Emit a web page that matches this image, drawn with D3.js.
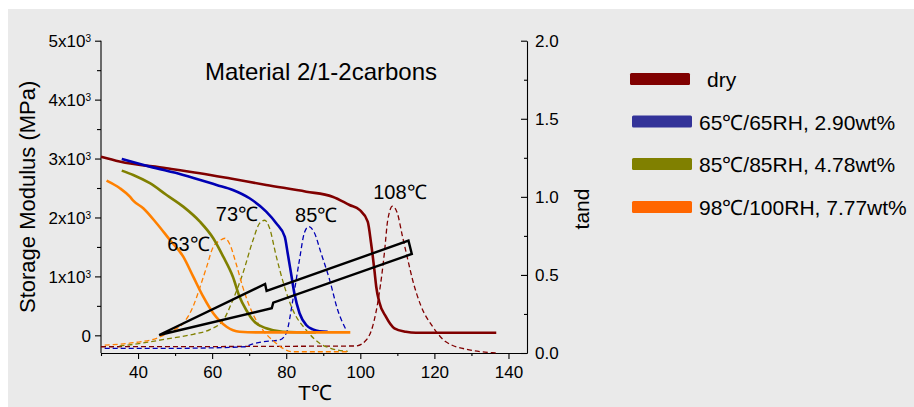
<!DOCTYPE html>
<html>
<head>
<meta charset="utf-8">
<script src="https://cdn.jsdelivr.net/npm/d3@7"></script>
<style>
  body { margin: 0; background: #fff; }
  svg { display: block; font-family: "Liberation Sans", Arial, sans-serif; }
</style>
</head>
<body>
<div id="chart"></div>
<script>
// series names and colours
const seriesNames = ["dry", "65℃/65RH, 2.90wt%", "85℃/85RH, 4.78wt%", "98℃/100RH, 7.77wt%"];
const lineColors = ["#800000", "#0000b4", "#808000", "#ff8000"];
const swatchColors = ["#800000", "#333399", "#808000", "#ff6600"];

// storage modulus (MPa) vs temperature, [T, E']
const modulusDry = [[30, 3030], [35, 2950], [47.7, 2836], [56.7, 2750], [65, 2660], [74.6, 2552], [85.4, 2438],
  [92.5, 2353], [97.1, 2212], [99.8, 2128], [102, 1929], [102.9, 1567], [103.8, 1109], [104.3, 825],
  [105.1, 570], [106.9, 316], [109.2, 119], [112.3, 61], [115, 44], [136.7, 44]];
const modulus65 = [[35.6, 2994], [43.2, 2863], [52.2, 2722], [61.2, 2552], [65.6, 2467], [70.1, 2326],
  [74.6, 2099], [77.3, 1902], [79.6, 1674], [80.4, 1392], [81.3, 1053], [82.2, 713], [83.6, 374],
  [85.4, 175], [87.2, 100], [89, 70], [91.2, 61]];
const modulus85 = [[35.6, 2795], [38.7, 2722], [43.2, 2581], [47.7, 2382], [52.2, 2184], [56.7, 1929],
  [60.3, 1647], [63, 1335], [65.6, 995], [67.4, 655], [69.2, 430], [71.4, 231], [74.6, 119],
  [79.1, 61], [88, 50]];
const modulus98 = [[31.5, 2625], [35.1, 2496], [37.8, 2353], [38.7, 2286], [41.4, 2157], [45, 1902],
  [48.6, 1618], [52.2, 1335], [54.9, 995], [57.6, 655], [60.3, 374], [63.9, 146], [67.4, 61],
  [72, 50], [97.3, 50]];

// tan delta vs temperature, [T, tand]
const tandDry = [[30, 0.04], [98.8, 0.045], [101.6, 0.083], [103.3, 0.168], [105.1, 0.38], [106.5, 0.64],
  [107.4, 0.85], [108.7, 0.94], [110, 0.895], [111.4, 0.745], [112.8, 0.6], [114.1, 0.47],
  [116.4, 0.3], [119.5, 0.17], [123.1, 0.072], [129.4, 0.02], [135.7, 0.002], [137, 0]];
const tand65 = [[31, 0.03], [50, 0.03], [69, 0.04], [70.1, 0.051], [73.7, 0.072], [78.2, 0.083],
  [80, 0.126], [81.8, 0.34], [83.6, 0.6], [84.9, 0.77], [86.1, 0.81], [87.6, 0.77], [89.4, 0.64],
  [91.7, 0.47], [93.9, 0.275], [96.2, 0.147]];
const tand85 = [[35, 0.045], [38.7, 0.055], [47.7, 0.09], [54.9, 0.12], [59.4, 0.15], [63, 0.21],
  [65.6, 0.34], [68.3, 0.51], [71, 0.72], [72.8, 0.83], [74.2, 0.85], [75.5, 0.8], [77.3, 0.62],
  [79.6, 0.42], [81.8, 0.275], [85.4, 0.147], [89, 0.062], [92, 0.03], [96.6, 0.01]];
const tand98 = [[31, 0.05], [38.7, 0.066], [45, 0.094], [49, 0.14], [52.2, 0.19], [54.9, 0.3],
  [56.7, 0.42], [58.5, 0.55], [60.3, 0.68], [62.1, 0.72], [63.5, 0.735], [64.7, 0.7], [66.5, 0.57],
  [68.3, 0.42], [71, 0.25], [73.7, 0.147], [77.3, 0.062], [79.1, 0.03], [81.8, 0.008], [97, 0.008]];

// tick values
const xTicks = [40, 60, 80, 100, 120, 140];
const leftTicks = [0, 1000, 2000, 3000, 4000, 5000];
const rightTicks = [0, 0.5, 1.0, 1.5, 2.0];

// peak labels, anchored at [T, tand]
const peakLabels = ["108℃", "85℃", "73℃", "63℃"];
const peakAnchors = [[110.7, 0.984], [88.1, 0.841], [66.7, 0.845], [53.6, 0.653]];

// arrow outline in [T, E'] space
const arrowPoints = [[45.7, 5], [74.3, 871], [74.7, 754], [113.0, 1606], [113.9, 1380], [76.5, 554], [76.1, 459]];

const modulusSeries = [modulusDry, modulus65, modulus85, modulus98];
const tandSeries = [tandDry, tand65, tand85, tand98];

const width = 914, height = 407;
const margin = { top: 40.7, right: 387, bottom: 54, left: 101 };

const svg = d3.select("#chart").append("svg")
  .attr("width", width)
  .attr("height", height);

svg.append("rect")
  .attr("x", 8).attr("y", 9)
  .attr("width", width - 8).attr("height", height - 9)
  .attr("fill", "#eaeaea");

const x = d3.scaleLinear().domain([30, 145]).range([margin.left, width - margin.right]);
const yL = d3.scaleLinear().domain([-300, 5000]).range([height - margin.bottom, margin.top]);
const yR = d3.scaleLinear().domain([0, 2]).range([height - margin.bottom, margin.top]);

const bottomY = height - margin.bottom;
const rightX = width - margin.right;

// x axis
svg.append("g")
  .attr("transform", `translate(0,${bottomY})`)
  .call(d3.axisBottom(x).tickValues(xTicks).tickSize(6).tickPadding(6.5).tickSizeOuter(0));
svg.append("g")
  .attr("transform", `translate(0,${bottomY})`)
  .call(d3.axisBottom(x).tickValues(d3.range(30, 141, 20)).tickSize(3).tickFormat("").tickSizeOuter(0))
  .select(".domain").remove();

// left axis
const leftAxis = svg.append("g")
  .attr("transform", `translate(${margin.left},0)`)
  .call(d3.axisLeft(yL).tickValues(leftTicks).tickSize(6).tickPadding(5).tickSizeOuter(0).tickFormat(""));
leftAxis.select(".domain").attr("d", `M0,${yL(5000)}V${bottomY}`);
svg.append("g")
  .attr("transform", `translate(${margin.left},0)`)
  .call(d3.axisLeft(yL).tickValues([500, 1500, 2500, 3500, 4500]).tickSize(4).tickFormat(""))
  .select(".domain").remove();

leftAxis.selectAll(".tick text").each(function (d) {
  const t = d3.select(this).attr("x", -10).attr("dy", "0.36em");
  if (d === 0) { t.text("0"); return; }
  t.append("tspan").text(`${d / 1000}x10`);
  t.append("tspan").text("3").attr("dy", "-0.55em").attr("font-size", 10);
});

// right axis (ticks inward)
svg.append("g")
  .attr("transform", `translate(${rightX},0)`)
  .call(d3.axisRight(yR).tickValues(rightTicks).tickSize(-6).tickPadding(8).tickSizeOuter(0)
    .tickFormat(d3.format(".1f")));
svg.append("g")
  .attr("transform", `translate(${rightX},0)`)
  .call(d3.axisRight(yR).tickValues([0.25, 0.75, 1.25, 1.75]).tickSize(-3).tickFormat(""))
  .select(".domain").remove();

svg.selectAll(".tick text").attr("font-size", 17).attr("font-family", "Liberation Sans, Arial, sans-serif").attr("fill", "#000");
svg.selectAll(".domain, .tick line").attr("stroke", "#000").attr("stroke-width", 1.1);

// tan delta curves (dashed)
const tandLine = d3.line().x(d => x(d[0])).y(d => yR(d[1])).curve(d3.curveMonotoneX);
svg.append("g").selectAll("path")
  .data(tandSeries)
  .join("path")
  .attr("d", tandLine)
  .attr("fill", "none")
  .attr("stroke", (d, i) => lineColors[i])
  .attr("stroke-width", 1.3)
  .attr("stroke-dasharray", "5,3");

// storage modulus curves (solid)
const modLine = d3.line().x(d => x(d[0])).y(d => yL(d[1])).curve(d3.curveMonotoneX);
svg.append("g").selectAll("path")
  .data(modulusSeries)
  .join("path")
  .attr("d", modLine)
  .attr("fill", "none")
  .attr("stroke", (d, i) => lineColors[i])
  .attr("stroke-width", 2.6);

// arrow
svg.append("path")
  .datum(arrowPoints)
  .attr("d", d3.line().x(d => x(d[0])).y(d => yL(d[1])).curve(d3.curveLinearClosed))
  .attr("fill", "none")
  .attr("stroke", "#000")
  .attr("stroke-width", 2.4)
  .attr("stroke-linejoin", "miter");

// peak labels
svg.append("g").selectAll("text")
  .data(peakLabels)
  .join("text")
  .attr("x", (d, i) => x(peakAnchors[i][0]))
  .attr("y", (d, i) => yR(peakAnchors[i][1]))
  .attr("text-anchor", "middle")
  .attr("font-size", 20)
  .text(d => d);

// titles
svg.append("text")
  .attr("x", 321).attr("y", 79.5)
  .attr("text-anchor", "middle")
  .attr("font-size", 24)
  .text("Material 2/1-2carbons");

svg.append("text")
  .attr("x", 315).attr("y", 400)
  .attr("text-anchor", "middle")
  .attr("font-size", 21)
  .text("T℃");

svg.append("text")
  .attr("transform", `translate(35,${(margin.top + bottomY) / 2}) rotate(-90)`)
  .attr("text-anchor", "middle")
  .attr("font-size", 22)
  .text("Storage Modulus (MPa)");

svg.append("text")
  .attr("transform", `translate(589,209) rotate(-90)`)
  .attr("text-anchor", "middle")
  .attr("font-size", 21)
  .text("tand");

// legend
const legend = svg.append("g").selectAll("g")
  .data(seriesNames)
  .join("g")
  .attr("transform", (d, i) => `translate(0,${[79, 121.5, 164, 207][i]})`);
legend.append("rect")
  .attr("x", (d, i) => i === 0 ? 630 : 632)
  .attr("y", -6)
  .attr("width", 60)
  .attr("height", 12)
  .attr("rx", 1.5)
  .attr("fill", (d, i) => swatchColors[i]);
legend.append("text")
  .attr("x", (d, i) => i === 0 ? 707 : 699)
  .attr("y", 8)
  .attr("font-size", 21)
  .text(d => d);
</script>
</body>
</html>
